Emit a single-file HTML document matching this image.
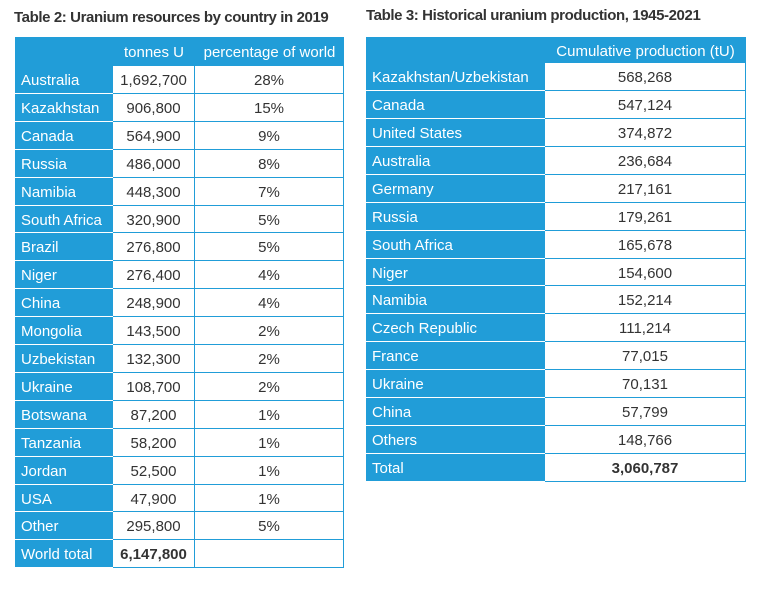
<!DOCTYPE html>
<html><head><meta charset="utf-8"><style>
body{margin:0;width:771px;height:595px;background:#fff;font-family:"Liberation Sans",Arial,sans-serif;position:relative;overflow:hidden}
.t{position:absolute;font-size:15px;color:#333;font-weight:bold;letter-spacing:-0.4px}
.c{position:absolute;box-sizing:border-box;font-size:15px;line-height:1;display:flex;align-items:center;padding-top:2px}
.lab{background:#219dd8;color:#fff;padding-left:6px;border-bottom:1px solid #fff}
.val{background:#fff;color:#333;justify-content:center;border-right:1px solid #219dd8;border-bottom:1px solid #219dd8}
.hd{background:#219dd8;color:#fff;justify-content:center}
</style></head><body>
<div class="t" style="left:14px;top:9px">Table 2: Uranium resources by country in 2019</div>
<div class="t" style="left:366px;top:7px">Table 3: Historical uranium production, 1945-2021</div>
<div id="root"></div>
<script>
const t2Countries=["Australia","Kazakhstan","Canada","Russia","Namibia","South Africa","Brazil","Niger","China","Mongolia","Uzbekistan","Ukraine","Botswana","Tanzania","Jordan","USA","Other","World total"];
const t2Tonnes=["1,692,700","906,800","564,900","486,000","448,300","320,900","276,800","276,400","248,900","143,500","132,300","108,700","87,200","58,200","52,500","47,900","295,800","6,147,800"];
const t2Pct=["28%","15%","9%","8%","7%","5%","5%","4%","4%","2%","2%","2%","1%","1%","1%","1%","5%",""];
const t3Countries=["Kazakhstan/Uzbekistan","Canada","United States","Australia","Germany","Russia","South Africa","Niger","Namibia","Czech Republic","France","Ukraine","China","Others","Total"];
const t3Prod=["568,268","547,124","374,872","236,684","217,161","179,261","165,678","154,600","152,214","111,214","77,015","70,131","57,799","148,766","3,060,787"];
const root=document.getElementById('root');
function cell(cls,x,y,w,h,txt,name,bold){
  const d=document.createElement('div');
  d.className='c '+cls;
  d.style.cssText=`left:${x}px;top:${y}px;width:${w}px;height:${h}px;`+(bold?'font-weight:bold;':'');
  d.textContent=txt;
  
  
  root.appendChild(d);
}
cell('hd',15,37,98,29,'','t2-header-blank');
cell('hd',113,37,82,29,'tonnes U','t2-header-tonnes');
cell('hd',195,37,149,29,'percentage of world','t2-header-percentage');
const rh2=27.9;
t2Countries.forEach((c,i)=>{
  const y=Math.round(66+i*rh2), h=Math.round(66+(i+1)*rh2)-y;
  const last=i===t2Countries.length-1;
  cell('lab',15,y,98,h,c,'t2-country-'+i);
  cell('val',113,y,82,h,t2Tonnes[i],'t2-tonnes-'+i,last);
  cell('val',195,y,149,h,t2Pct[i],'t2-pct-'+i);
});
cell('hd',366,37,179,26,'','t3-header-blank');
cell('hd',545,37,201,26,'Cumulative production (tU)','t3-header-production');
const rh3=27.93;
t3Countries.forEach((c,i)=>{
  const y=Math.round(63+i*rh3), h=Math.round(63+(i+1)*rh3)-y;
  const last=i===t3Countries.length-1;
  cell('lab',366,y,179,h,c,'t3-country-'+i);
  cell('val',545,y,201,h,t3Prod[i],'t3-production-'+i,last);
});
</script>
</body></html>
